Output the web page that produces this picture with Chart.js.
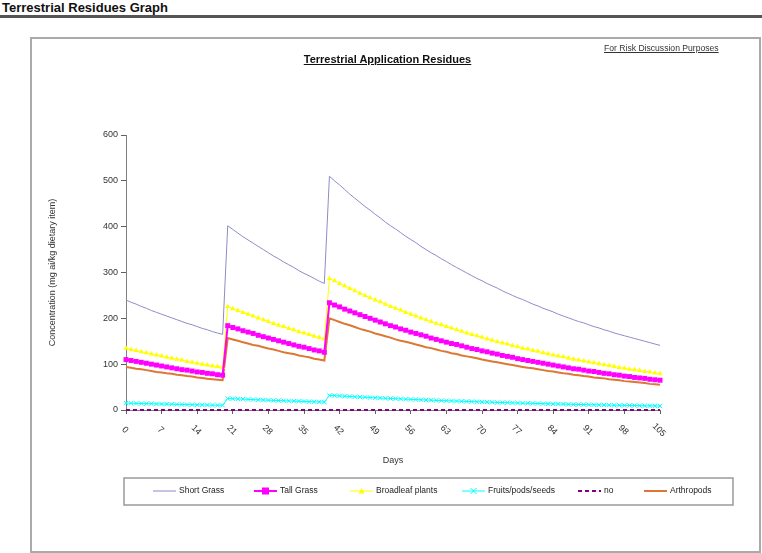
<!DOCTYPE html>
<html>
<head>
<meta charset="utf-8">
<script src="https://cdn.jsdelivr.net/npm/chart.js@4.4.0/dist/chart.umd.min.js"></script>
<style>
  body { margin: 0; width: 762px; height: 553px; background: #fff; position: relative; overflow: hidden;
         font-family: "Liberation Sans", Arial, sans-serif; }
  #head { position: absolute; left: 0; top: 0; width: 762px; height: 15px; border-bottom: 3px solid #555;
          font-weight: bold; font-size: 13px; line-height: 15px; text-indent: 2px; color: #111; }
  #frame { position: absolute; left: 30px; top: 37px; width: 727px; height: 512px; border: 2px solid #aaa; }
  #c { position: absolute; left: 0; top: 0; }
  #title { position: absolute; left: 0; width: 775px; top: 53px; text-align: center; font-weight: bold;
           font-size: 11px; text-decoration: underline; color: #111; }
  #note { position: absolute; left: 604px; top: 43px; font-size: 8.6px; text-decoration: underline; color: #333; }
</style>
</head>
<body>
<div id="head">Terrestrial Residues Graph</div>
<div id="frame"></div>
<canvas id="c" width="762" height="553"></canvas>
<div id="note">For Risk Discussion Purposes</div>
<div id="title">Terrestrial Application Residues</div>
<script>
// days after first application
var days = [0,1,2,3,4,5,6,7,8,9,10,11,12,13,14,15,16,17,18,19,
  20,21,22,23,24,25,26,27,28,29,30,31,32,33,34,35,36,37,38,39,
  40,41,42,43,44,45,46,47,48,49,50,51,52,53,54,55,56,57,58,59,
  60,61,62,63,64,65,66,67,68,69,70,71,72,73,74,75,76,77,78,79,
  80,81,82,83,84,85,86,87,88,89,90,91,92,93,94,95,96,97,98,99,
  100,101,102,103,104,105];

var shortGrass = [240,235,231,226,222,217,213,209,205,201,197,193,189,186,182,178,175,171,168,165,
  402,394,386,378,371,364,357,350,343,336,330,323,317,311,304,298,293,287,281,276,
  510,500,491,481,471,462,453,444,436,427,419,410,402,395,387,379,372,365,357,350,
  343,337,330,324,317,311,305,299,293,287,282,276,271,266,260,255,250,245,241,236,
  231,227,222,218,214,209,205,201,197,193,190,186,182,179,175,172,168,165,162,159,
  156,153,150,147,144,141];

var tallGrass = [110,108,106,104,102,100,98,96,94,92,90,88,87,85,83,82,80,79,77,76,
  184,180,177,173,170,167,163,160,157,154,151,148,145,142,139,137,134,131,129,126,
  234,229,225,220,216,212,208,204,200,196,192,188,184,181,177,174,170,167,164,161,
  157,154,151,148,145,143,140,137,134,132,129,127,124,122,119,117,115,112,110,108,
  106,104,102,100,98,96,94,92,90,89,87,85,84,82,80,79,77,76,74,73,
  71,70,69,67,66,65];

var broadleaf = [135,132,130,127,125,122,120,118,115,113,111,109,106,104,102,100,98,96,95,93,
  226,221,217,213,209,205,201,197,193,189,185,182,178,175,171,168,165,161,158,155,
  287,282,276,271,265,260,255,250,245,240,236,231,226,222,218,213,209,205,201,197,
  193,189,186,182,179,175,172,168,165,162,159,155,152,149,146,144,141,138,135,133,
  130,128,125,123,120,118,116,113,111,109,107,105,103,101,99,97,95,93,91,89,
  88,86,84,83,81,79];

var fruits = [15.0,14.7,14.4,14.1,13.9,13.6,13.3,13.1,12.8,12.6,12.3,12.1,11.8,11.6,11.4,11.1,10.9,10.7,10.5,10.3,
  25.1,24.6,24.1,23.7,23.2,22.7,22.3,21.9,21.4,21.0,20.6,20.2,19.8,19.4,19.0,18.7,18.3,17.9,17.6,17.2,
  31.9,31.3,30.7,30.1,29.5,28.9,28.3,27.8,27.2,26.7,26.2,25.7,25.2,24.7,24.2,23.7,23.2,22.8,22.3,21.9,
  21.5,21.0,20.6,20.2,19.8,19.4,19.1,18.7,18.3,18.0,17.6,17.3,16.9,16.6,16.3,16.0,15.6,15.3,15.0,14.7,
  14.4,14.2,13.9,13.6,13.4,13.1,12.8,12.6,12.3,12.1,11.9,11.6,11.4,11.2,11.0,10.7,10.5,10.3,10.1,9.9,
  9.7,9.5,9.3,9.2,9.0,8.8];

var noValues = [0,0,0,0,0,0,0,0,0,0,0,0,0,0,0,0,0,0,0,0,
  0,0,0,0,0,0,0,0,0,0,0,0,0,0,0,0,0,0,0,0,
  0,0,0,0,0,0,0,0,0,0,0,0,0,0,0,0,0,0,0,0,
  0,0,0,0,0,0,0,0,0,0,0,0,0,0,0,0,0,0,0,0,
  0,0,0,0,0,0,0,0,0,0,0,0,0,0,0,0,0,0,0,0,
  0,0,0,0,0,0];

var arthropods = [94,92,90,89,87,85,83,82,80,79,77,76,74,73,71,70,68,67,66,65,
  157,154,151,148,145,142,140,137,134,132,129,126,124,122,119,117,115,112,110,108,
  200,196,192,188,185,181,177,174,171,167,164,161,158,154,151,149,146,143,140,137,
  135,132,129,127,124,122,119,117,115,113,110,108,106,104,102,100,98,96,94,92,
  91,89,87,85,84,82,80,79,77,76,74,73,71,70,69,67,66,65,63,62,
  61,60,59,57,56,55];

var xTicks = [0,7,14,21,28,35,42,49,56,63,70,77,84,91,98,105];
var yTicks = [0,100,200,300,400,500,600];

var FONT = '"Liberation Sans", Arial, sans-serif';

// little marker painter for the boxed legend
function marker(ctx, style, x, y, r, color) {
  ctx.save();
  ctx.setLineDash([]);
  ctx.fillStyle = color;
  ctx.strokeStyle = color;
  ctx.lineWidth = 1;
  ctx.beginPath();
  if (style == 'rect') {
    ctx.fillRect(x - r, y - r, r * 2, r * 2);
  } else if (style == 'triangle') {
    ctx.moveTo(x, y - r);
    ctx.lineTo(x + r, y + r * 0.8);
    ctx.lineTo(x - r, y + r * 0.8);
    ctx.closePath();
    ctx.fill();
  } else if (style == 'crossRot') {
    ctx.moveTo(x - r, y - r); ctx.lineTo(x + r, y + r);
    ctx.moveTo(x + r, y - r); ctx.lineTo(x - r, y + r);
    ctx.stroke();
  }
  ctx.restore();
}

var boxLegend = {
  id: 'boxLegend',
  afterDraw: function (chart) {
    var ctx = chart.ctx;
    var xs = [153, 254, 350, 462, 578, 644];
    var y = 491;
    ctx.save();
    ctx.strokeStyle = '#9a9a9a';
    ctx.lineWidth = 1.5;
    ctx.strokeRect(124, 478, 609, 27);
    chart.data.datasets.forEach(function (ds, i) {
      var x = xs[i];
      ctx.strokeStyle = ds.borderColor;
      ctx.lineWidth = ds.borderWidth;
      ctx.setLineDash(ds.borderDash || []);
      ctx.beginPath();
      ctx.moveTo(x, y);
      ctx.lineTo(x + 23, y);
      ctx.stroke();
      if (ds.pointRadius > 0) marker(ctx, ds.pointStyle, x + 11.5, y, ds.pointRadius, ds.borderColor);
      ctx.setLineDash([]);
      ctx.fillStyle = '#222';
      ctx.font = '8.5px ' + FONT;
      ctx.textAlign = 'left';
      ctx.textBaseline = 'middle';
      ctx.fillText(ds.label, x + 26, y);
    });
    ctx.restore();
  }
};

// slanted day labels (drawn clockwise like the original)
var dayLabels = {
  id: 'dayLabels',
  afterDraw: function (chart) {
    var ctx = chart.ctx;
    var xs = chart.scales.x;
    ctx.save();
    ctx.fillStyle = '#333';
    ctx.font = '9px ' + FONT;
    ctx.textAlign = 'center';
    ctx.textBaseline = 'middle';
    xTicks.forEach(function (d) {
      var px = xs.getPixelForValue(days.indexOf(d));
      ctx.save();
      ctx.translate(px - 1, xs.top + 20);
      ctx.rotate(Math.PI / 4);
      ctx.fillText(String(d), 0, 0);
      ctx.restore();
    });
    ctx.restore();
  }
};

new Chart(document.getElementById('c'), {
  type: 'line',
  data: {
    labels: days,
    datasets: [{
      label: 'Short Grass', data: shortGrass,
      borderColor: '#8c8cc8', borderWidth: 1, pointRadius: 0, clip: 6
    }, {
      label: 'Tall Grass', data: tallGrass,
      borderColor: '#ff00ff', backgroundColor: '#ff00ff', borderWidth: 2,
      pointStyle: 'rect', pointRadius: 3.5, pointBorderWidth: 0, clip: 6
    }, {
      label: 'Broadleaf plants', data: broadleaf,
      borderColor: '#ffff00', backgroundColor: '#ffff00', borderWidth: 1,
      pointStyle: 'triangle', pointRadius: 3, pointBorderWidth: 0, clip: 6
    }, {
      label: 'Fruits/pods/seeds', data: fruits,
      borderColor: '#00ffff', backgroundColor: '#00ffff', borderWidth: 1,
      pointStyle: 'crossRot', pointRadius: 3, pointBorderWidth: 1, clip: 6
    }, {
      label: 'no', data: noValues,
      borderColor: '#800080', borderWidth: 2, borderDash: [4, 3], pointRadius: 0, clip: 6
    }, {
      label: 'Arthropods', data: arthropods,
      borderColor: '#dd7733', borderWidth: 2, pointRadius: 0, clip: 6
    }]
  },
  options: {
    responsive: false,
    animation: false,
    events: [],
    layout: { padding: { left: 43, right: 102, top: 135, bottom: 83 } },
    plugins: { legend: { display: false }, tooltip: { enabled: false } },
    scales: {
      x: {
        type: 'category',
        offset: false,
        border: { display: true, color: '#808080', width: 1 },
        grid: {
          drawOnChartArea: false, tickLength: 4,
          tickColor: function (c) { return xTicks.indexOf(days[c.index]) >= 0 ? '#606060' : 'rgba(0,0,0,0)'; }
        },
        ticks: { display: false },
        title: { display: true, text: 'Days', color: '#333', font: { family: FONT, size: 9 }, padding: 4 },
        afterFit: function (s) { s.height = 60; }
      },
      y: {
        min: yTicks[0], max: yTicks[yTicks.length - 1],
        border: { display: true, color: '#808080', width: 1 },
        grid: { drawOnChartArea: false, tickLength: 5, tickColor: '#606060' },
        ticks: { stepSize: yTicks[1] - yTicks[0], color: '#333', font: { family: FONT, size: 9 }, padding: 3 },
        title: { display: true, text: 'Concentration (mg ai/kg dietary item)', color: '#333',
                 font: { family: FONT, size: 9 }, padding: 4 },
        afterFit: function (s) { s.width = 83; }
      }
    }
  },
  plugins: [boxLegend, dayLabels]
});
</script>
</body>
</html>
